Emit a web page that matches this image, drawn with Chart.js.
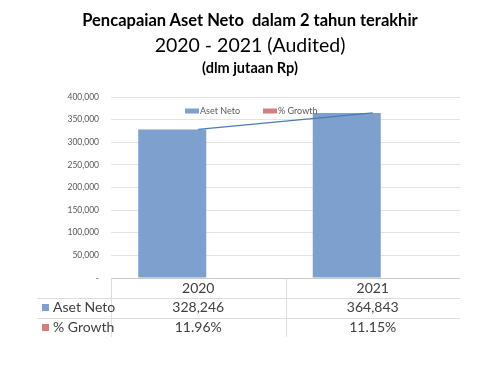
<!DOCTYPE html>
<html>
<head>
<meta charset="utf-8">
<script src="https://cdn.jsdelivr.net/npm/chart.js@4"></script>
<style>
  html, body { margin: 0; padding: 0; background: #fff; }
  #wrap { position: relative; width: 500px; height: 375px; overflow: hidden; }
  canvas { position: absolute; left: 0; top: 0; }
  .t { position: absolute; left: 0; width: 500px; text-align: center; color: #000; font-family: Lato, "Open Sans", sans-serif; white-space: pre; }
  #t1 { top: 10px; font-size: 16.5px; font-weight: bold; }
  #t2 { top: 33px; font-size: 19.5px; }
  #t3 { top: 59px; font-size: 14.5px; font-weight: bold; }
</style>
</head>
<body>
<div id="wrap">
  <canvas id="c" width="500" height="375"></canvas>
  <div class="t" id="t1">Pencapaian Aset Neto  dalam 2 tahun terakhir</div>
  <div class="t" id="t2">2020 - 2021 (Audited)</div>
  <div class="t" id="t3">(dlm jutaan Rp)</div>
</div>
<script>
const categories = ['2020', '2021'];
const asetNeto = [328246, 364843];
const growth = [11.96, 11.15];
const growthLabels = ['11.96%', '11.15%'];
const seriesNames = ['Aset Neto', '% Growth'];
const yTicks = [0, 50000, 100000, 150000, 200000, 250000, 300000, 350000, 400000];

const BLUE = '#7DA0CE';
const RED = '#D27F7E';
const LINE = '#4A7BB7';
const seriesColors = [BLUE, RED];
const FONT = 'Lato, "Open Sans", sans-serif';

const legendPlugin = {
  id: 'innerLegend',
  afterDraw(chart) {
    const ctx = chart.ctx;
    ctx.save();
    ctx.font = '9px ' + FONT;
    ctx.textBaseline = 'middle';
    ctx.textAlign = 'left';
    let x = 185;
    const cy = 111;
    for (let i = 0; i < seriesNames.length; i++) {
      ctx.fillStyle = seriesColors[i];
      ctx.fillRect(x, cy - 2.5, 14, 5);
      x += 15;
      ctx.fillStyle = '#595959';
      ctx.fillText(seriesNames[i], x, cy);
      x += ctx.measureText(seriesNames[i]).width + 23;
    }
    ctx.restore();
  }
};

const tablePlugin = {
  id: 'dataTable',
  afterDraw(chart) {
    const ctx = chart.ctx;
    const xs = chart.scales.x;
    const ca = chart.chartArea;
    const catW = (ca.right - ca.left) / categories.length;
    const rowH = 19.5;
    const top = ca.bottom + 0.5;
    ctx.save();
    ctx.lineWidth = 1;
    ctx.strokeStyle = '#C8C8C8';
    ctx.beginPath(); ctx.moveTo(ca.left, top); ctx.lineTo(ca.right, top); ctx.stroke();
    ctx.strokeStyle = '#DDDDDD';
    for (let r = 1; r <= 2; r++) {
      const y = Math.round(top + r * rowH) + 0.5;
      ctx.beginPath(); ctx.moveTo(37, y); ctx.lineTo(ca.right, y); ctx.stroke();
    }
    for (let i = 0; i < categories.length; i++) {
      const xl = Math.round(ca.left + i * catW) + 0.5;
      ctx.beginPath(); ctx.moveTo(xl, top); ctx.lineTo(xl, top + rowH * 3); ctx.stroke();
    }
    ctx.fillStyle = '#404040';
    ctx.font = '14px ' + FONT;
    ctx.textBaseline = 'middle';
    ctx.textAlign = 'center';
    for (let i = 0; i < categories.length; i++) {
      const cx = xs.getPixelForValue(i);
      ctx.fillText(categories[i], cx, top + rowH * 0.5);
      ctx.fillText(asetNeto[i].toLocaleString('en-US'), cx, top + rowH * 1.5);
      ctx.fillText(growthLabels[i], cx, top + rowH * 2.5);
    }
    ctx.textAlign = 'left';
    for (let r = 0; r < seriesNames.length; r++) {
      const cy = top + rowH * (r + 1.5);
      ctx.fillStyle = seriesColors[r];
      ctx.fillRect(42, Math.round(cy - 3.5), 7, 7);
      ctx.fillStyle = '#404040';
      ctx.fillText(seriesNames[r], 53, cy);
    }
    ctx.restore();
  }
};

new Chart(document.getElementById('c'), {
  type: 'bar',
  data: {
    labels: categories,
    datasets: [
      {
        type: 'line',
        label: 'trend',
        data: asetNeto,
        borderColor: LINE,
        borderWidth: 1.3,
        pointRadius: 0,
        fill: false,
        order: 0
      },
      {
        label: seriesNames[0],
        data: asetNeto,
        backgroundColor: BLUE,
        categoryPercentage: 0.596,
        barPercentage: 1.308,
        order: 1
      },
      {
        label: seriesNames[1],
        data: growth,
        backgroundColor: 'rgba(0,0,0,0)',
        categoryPercentage: 0.596,
        barPercentage: 1.308,
        order: 2
      }
    ]
  },
  options: {
    responsive: false,
    animation: false,
    layout: { padding: { left: 0, top: 97, right: 40, bottom: 97 } },
    plugins: {
      legend: { display: false },
      tooltip: { enabled: false }
    },
    scales: {
      x: {
        display: false,
        offset: true
      },
      y: {
        min: 0,
        max: 400000,
        afterFit(scale) { scale.width = 111; },
        afterBuildTicks(scale) { scale.ticks = yTicks.map(v => ({ value: v })); },
        border: { display: false },
        grid: { color: '#E3E3E3', drawTicks: false },
        ticks: {
          padding: 12,
          color: '#595959',
          font: { family: FONT, size: 8.5 },
          callback: (v) => v === 0 ? '-' : Number(v).toLocaleString('en-US')
        }
      }
    }
  },
  plugins: [legendPlugin, tablePlugin]
});
</script>
</body>
</html>
